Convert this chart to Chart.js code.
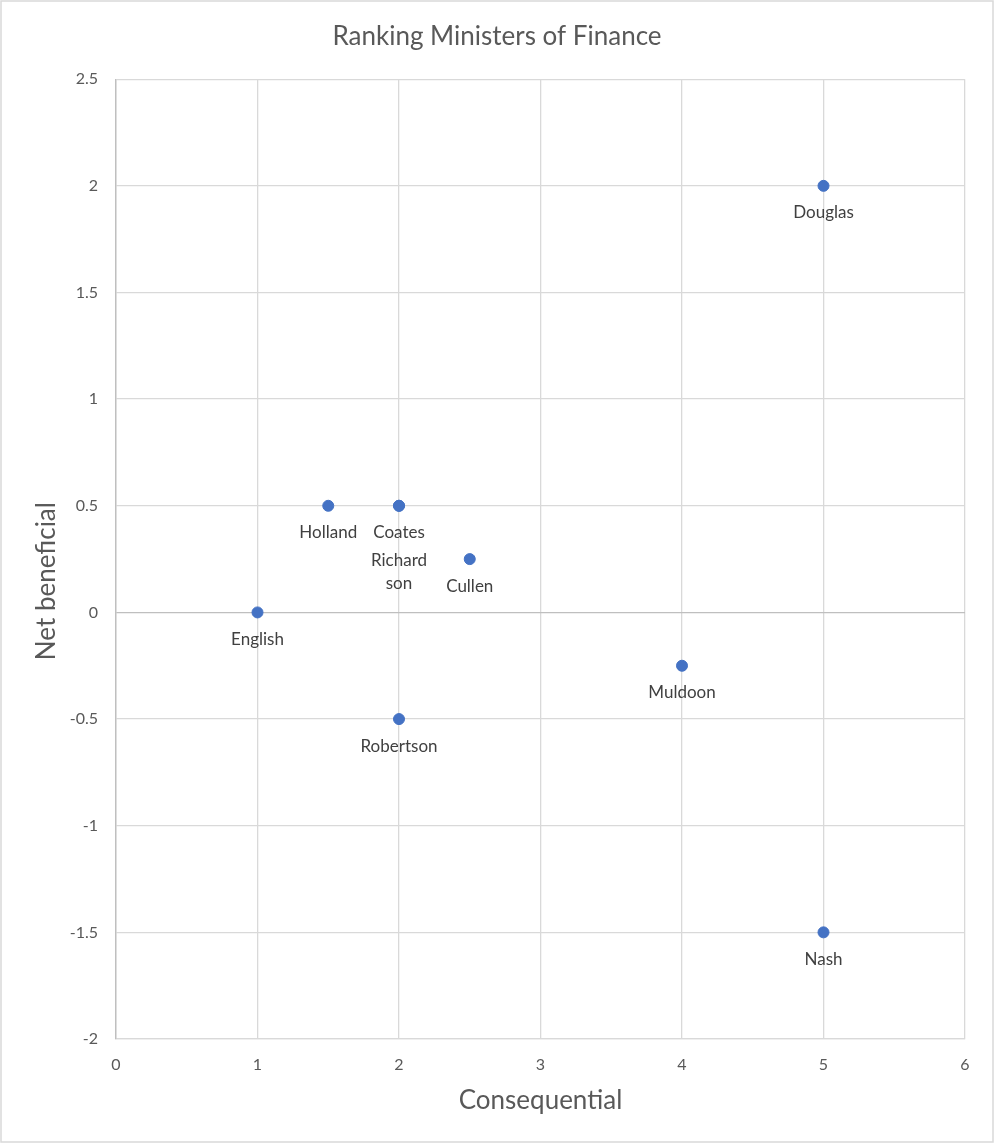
<!DOCTYPE html>
<html>
<head>
<meta charset="utf-8">
<script src="https://cdn.jsdelivr.net/npm/chart.js@4/dist/chart.umd.min.js"></script>
<style>
  body { margin: 0; background: #fff; }
</style>
</head>
<body>
<canvas id="chart" width="994" height="1144"></canvas>
<script>
// data
const names = ["English", "Holland", "Coates", ["Richard", "son"], "Cullen", "Robertson", "Muldoon", "Douglas", "Nash"];
const consequential = [1, 1.5, 2, 2, 2.5, 2, 4, 5, 5];
const netBeneficial = [0, 0.5, 0.5, 0.5, 0.25, -0.5, -0.25, 2, -1.5];
const yTitle = 'Net beneficial';

const FONT = "Lato, 'Open Sans', sans-serif";
const TEXT = "#595959";

// white background + thin frame
const frame = {
  id: 'frame',
  beforeDraw(chart) {
    const c = chart.ctx;
    c.save();
    c.fillStyle = '#fff';
    c.fillRect(0, 0, chart.width, chart.height);
    c.strokeStyle = '#d9d9d9';
    c.lineWidth = 1.5;
    c.strokeRect(1, 1, chart.width - 2, chart.height - 3);
    c.restore();
  }
};

// y title sits a little below the middle of the plot, like the original
const yAxisTitle = {
  id: 'yAxisTitle',
  afterDraw(chart) {
    const c = chart.ctx, a = chart.chartArea;
    c.save();
    c.translate(47, (a.top + a.bottom) / 2 + 22);
    c.rotate(-Math.PI / 2);
    c.font = "26px " + FONT;
    c.fillStyle = TEXT;
    c.textAlign = 'center';
    c.textBaseline = 'middle';
    c.fillText(yTitle, 0, 0);
    c.restore();
  }
};

// point labels under each marker; a label of a point sitting on another is pushed down
const pointLabels = {
  id: 'pointLabels',
  afterDatasetsDraw(chart) {
    const c = chart.ctx;
    const xs = chart.scales.x, ys = chart.scales.y;
    c.save();
    c.font = "17px " + FONT;
    c.fillStyle = '#404040';
    c.textAlign = 'center';
    c.textBaseline = 'middle';
    const lineH = 23;
    names.forEach((n, i) => {
      const px = xs.getPixelForValue(consequential[i]);
      const py = ys.getPixelForValue(netBeneficial[i]);
      let shift = 0;
      for (let j = 0; j < i; j++) {
        if (consequential[j] === consequential[i] && netBeneficial[j] === netBeneficial[i]) {
          shift += [].concat(names[j]).length;
        }
      }
      [].concat(n).forEach((line, k) => {
        c.fillText(line, px, py + 27 + (shift + k) * lineH + (shift ? 5 : 0));
      });
    });
    c.restore();
  }
};

const gridColor = ctx => ctx.tick && ctx.tick.value === 0 ? '#bfbfbf' : '#d9d9d9';

new Chart(document.getElementById('chart').getContext('2d'), {
  type: 'scatter',
  data: {
    datasets: [{
      label: 'Ministers',
      data: consequential.map((x, i) => ({ x: x, y: netBeneficial[i] })),
      backgroundColor: '#4472c4',
      borderColor: '#4472c4',
      pointRadius: 5.5,
      pointHoverRadius: 5.5
    }]
  },
  options: {
    responsive: false,
    animation: false,
    layout: { padding: 0 },
    plugins: {
      legend: { display: false },
      tooltip: { enabled: false },
      title: {
        display: true,
        text: 'Ranking Ministers of Finance',
        color: TEXT,
        font: { family: FONT, size: 26, weight: 'normal', lineHeight: 1.2 },
        padding: { top: 21, bottom: 27 }
      }
    },
    scales: {
      x: {
        type: 'linear',
        min: 0,
        max: 6,
        afterFit(scale) { scale.height = 105; },
        ticks: { stepSize: 1, color: TEXT, padding: 16, font: { family: FONT, size: 16 } },
        grid: { drawTicks: false, lineWidth: 1.3, color: gridColor },
        border: { color: '#d9d9d9', width: 1.3 },
        title: {
          display: true,
          text: 'Consequential',
          color: TEXT,
          font: { family: FONT, size: 26, lineHeight: 1.2 },
          padding: { top: 0, bottom: 28 }
        }
      },
      y: {
        type: 'linear',
        min: -2,
        max: 2.5,
        afterFit(scale) { scale.width = 116; },
        ticks: {
          stepSize: 0.5,
          color: TEXT,
          padding: 18,
          font: { family: FONT, size: 16 },
          callback: v => String(v)
        },
        grid: { drawTicks: false, lineWidth: 1.3, color: gridColor },
        border: { color: '#bfbfbf', width: 1.3 }
      },
      // empty spacer on the right so the title stays centred on the whole picture
      spacer: {
        type: 'linear',
        position: 'right',
        min: -2,
        max: 2.5,
        afterFit(scale) { scale.width = 29; },
        ticks: { display: false },
        grid: { display: false },
        border: { display: false }
      }
    }
  },
  plugins: [frame, yAxisTitle, pointLabels]
});
</script>
</body>
</html>
